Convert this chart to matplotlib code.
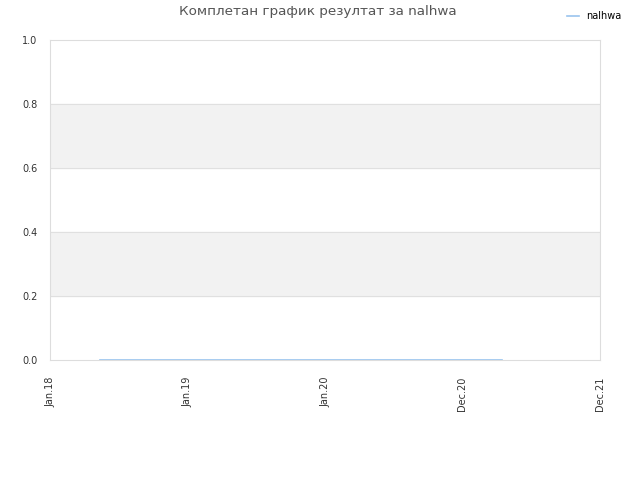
import matplotlib
matplotlib.use("Agg")
import matplotlib.pyplot as plt

# Data
tick_labels = ["Jan.18", "Jan.19", "Jan.20", "Dec.20", "Dec.21"]
series_name = "nalhwa"
series_x = [0.36, 3.29]   # position along the tick scale
series_y = [0.0, 0.0]

fig = plt.figure(figsize=(6.4, 4.8), dpi=100)
ax = fig.add_axes([50 / 640, 1 - 360 / 480, 550 / 640, 320 / 480])

# alternating bands
for lo, hi in [(0.2, 0.4), (0.6, 0.8)]:
    ax.axhspan(lo, hi, color="#f2f2f2", zorder=0)
for y in [0.2, 0.4, 0.6, 0.8]:
    ax.axhline(y, color="#e0e0e0", lw=0.8, zorder=1)

ax.plot(series_x, series_y, color="#99c4ee", lw=1.2, label=series_name, zorder=3)

ax.set_xlim(0, len(tick_labels) - 1)
ax.set_ylim(0, 1.0)
ax.set_xticks(range(len(tick_labels)))
ax.set_xticklabels(tick_labels, rotation=90, fontsize=7, color="#333333")
ax.set_yticks([0, 0.2, 0.4, 0.6, 0.8, 1.0])
ax.set_yticklabels(["0.0", "0.2", "0.4", "0.6", "0.8", "1.0"], fontsize=7, color="#333333")
ax.tick_params(axis="x", length=0, pad=12)
ax.tick_params(axis="y", length=0, pad=9)
for s in ax.spines.values():
    s.set_color("#dddddd")

fig.text(0.497, 1 - 12 / 480, "Комплетан график резултат за nalhwa",
         ha="center", va="center", fontsize=9.7, color="#555555")
fig.legend(loc="upper right", bbox_to_anchor=(0.985, 0.995), frameon=False,
           fontsize=7, handlelength=1.2)

plt.savefig("out.png", dpi=100)
